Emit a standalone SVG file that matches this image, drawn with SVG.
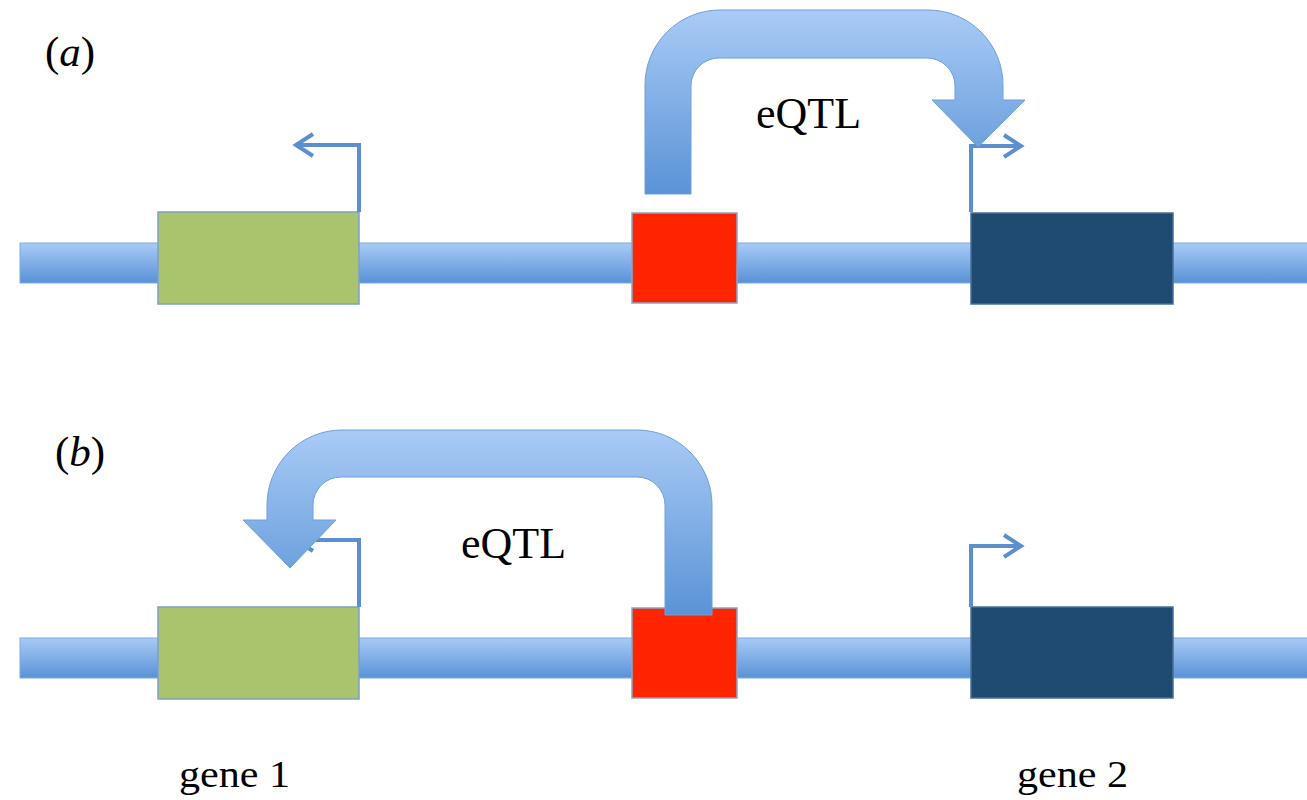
<svg xmlns="http://www.w3.org/2000/svg" width="1307" height="800" viewBox="0 0 1307 800">
<defs>
<linearGradient id="barG" x1="0" y1="0" x2="0" y2="1">
<stop offset="0" stop-color="#a8cbf6"/>
<stop offset="1" stop-color="#5892d6"/>
</linearGradient>
<linearGradient id="arrA" gradientUnits="userSpaceOnUse" x1="0" y1="10" x2="0" y2="194">
<stop offset="0" stop-color="#a9cbf6"/>
<stop offset="1" stop-color="#5a93d6"/>
</linearGradient>
<linearGradient id="arrB" gradientUnits="userSpaceOnUse" x1="0" y1="430" x2="0" y2="615">
<stop offset="0" stop-color="#a9cbf6"/>
<stop offset="1" stop-color="#5a93d6"/>
</linearGradient>
</defs>
<style>
.bar{fill:url(#barG);stroke:#7eaadf;stroke-width:1}
.g1{fill:#a9c46c;stroke:#7f9fc8;stroke-width:1.5}
.snp{fill:#fe2500;stroke:#8aa6cc;stroke-width:1.5}
.g2{fill:#1f4a72;stroke:#4a6f98;stroke-width:1.5}
.prom{fill:none;stroke:#5b8fd0;stroke-width:4;stroke-linejoin:miter}
.big{stroke:#6f9fd8;stroke-width:1}
.lab{font-family:"Liberation Serif","Times New Roman",serif;fill:#000}
</style>
<rect width="1307" height="800" fill="#fff"/>

<g id="panel-a">
<rect id="chrom-a" class="bar" x="20" y="243" width="1300" height="40"/>
<g id="gene1-a"><rect class="g1" x="158" y="212" width="201" height="92"/></g>
<g id="snp-a"><rect class="snp" x="632" y="213" width="105" height="90"/></g>
<g id="gene2-a"><rect class="g2" x="971" y="213" width="202" height="91"/></g>
<text id="label-a" class="lab" x="45" y="66" font-size="43"><tspan>(</tspan><tspan font-style="italic">a</tspan><tspan>)</tspan></text>
<text id="eqtl-a" class="lab" x="756" y="128" font-size="44">eQTL</text>
</g>

<g id="panel-b">
<rect id="chrom-b" class="bar" x="20" y="638" width="1300" height="40"/>
<g id="gene1-b"><rect class="g1" x="158" y="607" width="201" height="92"/></g>
<g id="snp-b"><rect class="snp" x="632" y="608" width="105" height="90"/></g>
<g id="gene2-b"><rect class="g2" x="971" y="607" width="202" height="91"/></g>
<text id="label-b" class="lab" x="55" y="466" font-size="43"><tspan>(</tspan><tspan font-style="italic">b</tspan><tspan>)</tspan></text>
<text id="eqtl-b" class="lab" x="461" y="558" font-size="44">eQTL</text>
</g>

<g id="connectors">
<path class="prom" d="M359,212 V145 H296 M313,134 L296,145 L313,156"/>
<path class="prom" d="M971,212 V146 H1021 M1004,135 L1021,146 L1004,157"/>
<path class="prom" d="M359,607 V540 H296 M313,529 L296,540 L313,551"/>
<path class="prom" d="M971,607 V546 H1021 M1004,535 L1021,546 L1004,557"/>
<path id="eqtl-arrow-a" class="big" fill="url(#arrA)" d="M645,194 L645,85 A75,75 0 0 1 720,10 L928,10 A75,75 0 0 1 1003,85 L1003,100 L1025,100 L978,147 L932,100 L955,100 L955,86 A28,28 0 0 0 927,58 L719,58 A28,28 0 0 0 691,86 L691,194 Z"/>
<path id="eqtl-arrow-b" class="big" fill="url(#arrB)" d="M712,615 L712,505 A75,75 0 0 0 637,430 L342,430 A75,75 0 0 0 267,505 L267,520 L243,520 L290,568 L336,520 L313,520 L313,505 A28,28 0 0 1 341,477 L637,477 A28,28 0 0 1 665,505 L665,615 Z"/>
</g>

<text id="gene1-label" class="lab" x="179" y="787" font-size="38" textLength="111" lengthAdjust="spacingAndGlyphs">gene 1</text>
<text id="gene2-label" class="lab" x="1017" y="787" font-size="38" textLength="111" lengthAdjust="spacingAndGlyphs">gene 2</text>
</svg>
